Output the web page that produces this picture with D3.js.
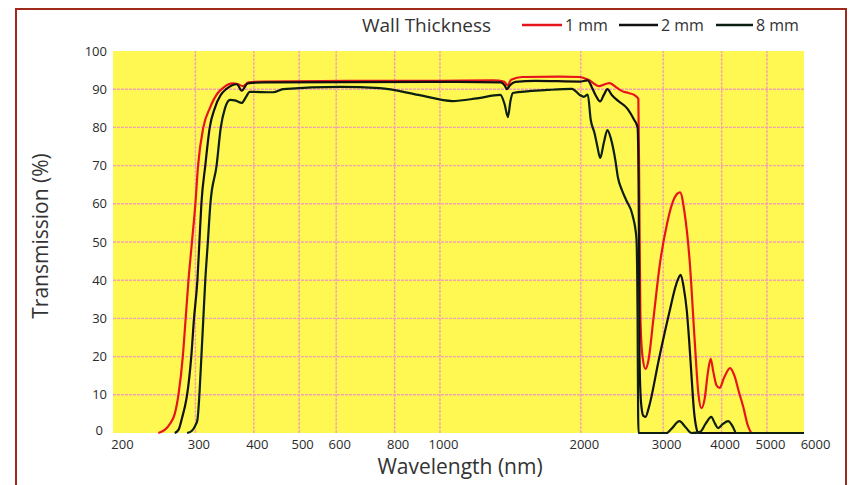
<!DOCTYPE html>
<html>
<head>
<meta charset="utf-8">
<script src="https://cdn.jsdelivr.net/npm/d3@7"></script>
<style>
  html, body { margin: 0; padding: 0; background: #fff; }
  svg text { font-family: 'Open Sans', 'Noto Sans', sans-serif; fill: #333; }
</style>
</head>
<body>
<div id="chart"></div>
<script>
// wavelength (nm) / transmission (%) pairs
const t1mm = [
  [250, 0], [258, 0.8], [265, 2.5], [271, 5], [276, 10], [282, 20], [286, 30], [290, 40],
  [295, 50], [300, 60], [304, 70], [312, 80], [322, 85], [335, 89], [345, 90.5], [360, 91.5],
  [370, 91.3], [379, 90.8], [390, 91.8], [420, 92], [700, 92.2], [1000, 92.2], [1300, 92.3],
  [1370, 92], [1395, 91], [1420, 92.5], [1500, 93.2], [1800, 93.3], [1990, 93.2], [2080, 92.4],
  [2190, 90.8], [2300, 91.6], [2400, 90.2], [2450, 89.5], [2530, 89], [2600, 88.5], [2655, 87.5],
  [2668, 60], [2682, 30], [2710, 20], [2750, 16.8], [2790, 19], [2860, 30], [2950, 44],
  [3060, 55], [3170, 61.5], [3260, 63], [3330, 58], [3418, 45], [3500, 25], [3570, 10],
  [3621, 6.5], [3680, 9], [3740, 16], [3790, 19.4], [3840, 16], [3900, 12.5], [3960, 11.8],
  [4050, 14.5], [4170, 17], [4260, 15], [4350, 11], [4450, 6.8], [4550, 2], [4650, 0], [6000, 0]
]
const t2mm = [
  [271, 0], [276, 0.8], [281, 4], [285, 7], [288, 10], [294, 20], [298, 30], [303, 40],
  [306, 50], [309, 60], [315, 70], [322, 80], [330, 85], [340, 88.5], [349, 90], [368, 91.3],
  [377, 89.6], [388, 91.5], [420, 91.8], [1000, 91.9], [1350, 91.8], [1375, 91], [1390, 90],
  [1410, 91], [1450, 91.9], [1600, 92.2], [1990, 92], [2070, 92.3], [2110, 90.6], [2150, 88.5],
  [2200, 86.8], [2240, 88.5], [2280, 90], [2330, 88.5], [2400, 87], [2520, 84.8], [2600, 82],
  [2645, 80], [2660, 60], [2670, 20], [2690, 8], [2720, 4.5], [2750, 4.2], [2800, 7],
  [2934, 19], [3090, 31.4], [3200, 39], [3270, 41.4], [3320, 38], [3370, 32], [3410, 24],
  [3450, 14.7], [3490, 6], [3530, 1.5], [3570, 0], [6000, 0]
]
const t8mm = [
  [288, 0], [295, 0.6], [300, 2], [303, 3.4], [306, 10], [309, 20], [312, 30], [315, 40],
  [319, 50], [323, 60], [333, 70], [340, 80], [347, 85], [356, 87.2], [366, 87], [377, 86.4],
  [385, 88], [392, 89.3], [440, 89.2], [462, 90], [612, 90.6], [743, 90.3], [900, 88.5],
  [1064, 86.9], [1200, 87.6], [1346, 88.5], [1375, 86], [1397, 82.7], [1415, 87], [1431, 89],
  [1698, 89.8], [1914, 90.1], [1990, 88.5], [2030, 88], [2070, 88.6], [2100, 82], [2140, 78.5],
  [2170, 75], [2200, 72], [2240, 76], [2280, 79.3], [2320, 77], [2370, 71.5], [2400, 67],
  [2450, 63.5], [2500, 61], [2580, 57], [2630, 51], [2645, 30], [2652, 5], [2658, 0],
  [3050, 0], [3120, 1], [3250, 3.1], [3350, 1.5], [3450, 0], [3600, 0.3], [3700, 2.5],
  [3800, 4.2], [3870, 2.5], [3930, 1.3], [4020, 2.3], [4130, 3.1], [4220, 1.8], [4300, 0], [6000, 0]
]

const xTicks = [200, 300, 400, 500, 600, 800, 1000, 2000, 3000, 4000, 5000, 6000]
const yTicks = [0, 10, 20, 30, 40, 50, 60, 70, 80, 90, 100]
const seriesNames = ['1 mm', '2 mm', '8 mm']
const seriesColors = ['#e8141c', '#111111', '#0c1f10']

const width = 850
const height = 485
const margin = { top: 51, right: 46, bottom: 52, left: 113 }

const svg = d3.select('#chart').append('svg')
  .attr('width', width)
  .attr('height', height)

const x = d3.scaleLog()
  .domain([200, 6000])
  .range([margin.left, width - margin.right])

const y = d3.scaleLinear()
  .domain([0, 100])
  .range([height - margin.bottom, margin.top])

// outer frame
svg.append('rect')
  .attr('x', 16)
  .attr('y', 9)
  .attr('width', 830)
  .attr('height', 490)
  .attr('fill', 'none')
  .attr('stroke', '#9e2a1c')
  .attr('stroke-width', 2)

// plot background
svg.append('rect')
  .attr('x', x(200))
  .attr('y', y(100))
  .attr('width', x(6000) - x(200))
  .attr('height', y(0) - y(100))
  .attr('fill', '#fff852')

const grid = svg.append('g').attr('class', 'grid')
grid.selectAll('line.h')
  .data(yTicks.filter(d => d > 0 && d < 100))
  .enter()
  .append('line')
  .attr('x1', x(200))
  .attr('x2', x(6000))
  .attr('y1', d => y(d))
  .attr('y2', d => y(d))
grid.selectAll('line.v')
  .data(xTicks.filter(d => d > 200 && d < 6000))
  .enter()
  .append('line')
  .attr('x1', d => x(d))
  .attr('x2', d => x(d))
  .attr('y1', y(0))
  .attr('y2', y(100))
grid.selectAll('line')
  .attr('stroke', '#f3a2b2')
  .attr('stroke-width', 1.4)
  .attr('stroke-dasharray', '3,1')

// axes (labels only, no domain / tick marks)
const xAxis = svg.append('g')
  .attr('transform', `translate(3,${y(0) + 2})`)
  .call(d3.axisBottom(x).tickValues(xTicks).tickFormat(d3.format('d')).tickSize(0).tickPadding(5))
const yAxis = svg.append('g')
  .attr('transform', `translate(${x(200) - 4},0)`)
  .call(d3.axisLeft(y).tickValues(yTicks).tickSize(0).tickPadding(2))

;[xAxis, yAxis].forEach(g => {
  g.select('.domain').remove()
  g.selectAll('text')
    .style('font-size', '13px')
    .style('fill', '#2b2b2b')
})
xAxis.selectAll('text').filter(d => d === 200).attr('dx', 6)
xAxis.selectAll('text').filter(d => d === 6000).attr('dx', 8)
yAxis.selectAll('text').filter(d => d === 0).attr('dy', '0.1em').attr('dx', -4)

svg.append('text')
  .attr('x', 460)
  .attr('y', 474)
  .attr('text-anchor', 'middle')
  .style('font-size', '21px')
  .text('Wavelength (nm)')

svg.append('text')
  .attr('transform', 'translate(48,236) rotate(-90)')
  .attr('text-anchor', 'middle')
  .style('font-size', '21px')
  .text('Transmission (%)')

// curves
const line = d3.line()
  .x(d => x(d[0]))
  .y(d => y(d[1]))
  .curve(d3.curveMonotoneX)

svg.append('g')
  .selectAll('path')
  .data([t1mm, t2mm, t8mm])
  .enter()
  .append('path')
  .attr('d', line)
  .attr('fill', 'none')
  .attr('stroke', (d, i) => seriesColors[i])
  .attr('stroke-width', 2.2)
  .attr('stroke-linejoin', 'round')

// legend
const legend = svg.append('g').attr('class', 'legend')
legend.append('text')
  .attr('x', 362)
  .attr('y', 32)
  .style('font-size', '19px')
  .text('Wall Thickness')

const legendX = [522, 619, 716]
const legendLen = [40, 39, 37]
seriesNames.forEach((name, i) => {
  legend.append('line')
    .attr('x1', legendX[i])
    .attr('x2', legendX[i] + legendLen[i])
    .attr('y1', 25)
    .attr('y2', 25)
    .attr('stroke', seriesColors[i])
    .attr('stroke-width', 2.5)
  legend.append('text')
    .attr('x', legendX[i] + legendLen[i] + 3)
    .attr('y', 31)
    .style('font-size', '16px')
    .text(name)
})
</script>
</body>
</html>
